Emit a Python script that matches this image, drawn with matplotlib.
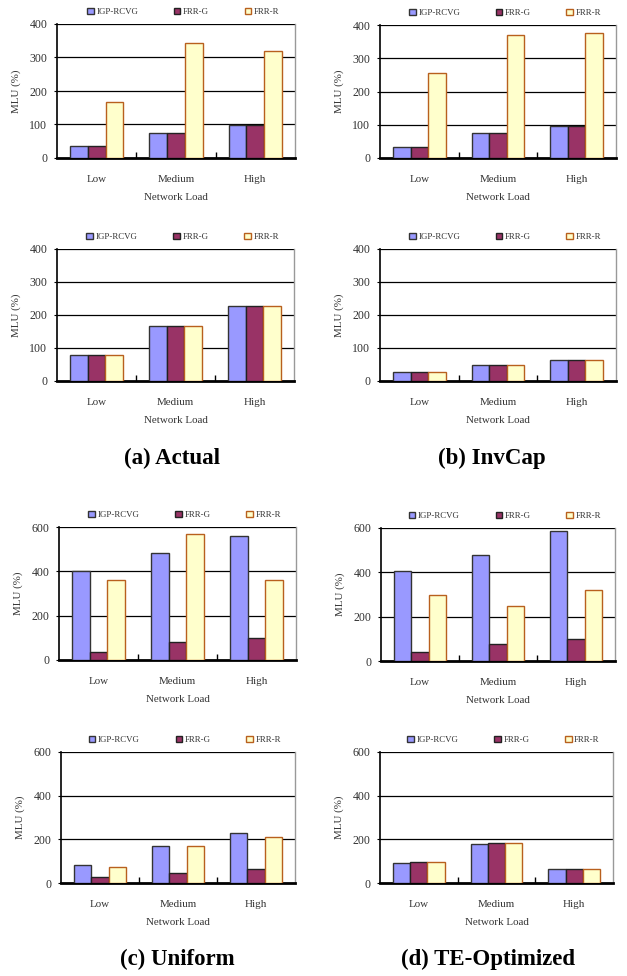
import matplotlib
matplotlib.use("Agg")
import matplotlib.pyplot as plt
from matplotlib.patches import Patch
import numpy as np

plt.rcParams['font.family'] = ['Liberation Serif', 'DejaVu Serif']

categories = ["Low", "Medium", "High"]
series_names = ["IGP-RCVG", "FRR-G", "FRR-R"]

# (a) Actual
a_top_igp = [36, 75, 98]
a_top_frrg = [36, 75, 98]
a_top_frrr = [167, 343, 319]
a_bot_igp = [78, 166, 228]
a_bot_frrg = [78, 166, 228]
a_bot_frrr = [78, 166, 228]
# (b) InvCap
b_top_igp = [33, 74, 97]
b_top_frrg = [33, 74, 97]
b_top_frrr = [255, 369, 375]
b_bot_igp = [27, 48, 64]
b_bot_frrg = [27, 48, 64]
b_bot_frrr = [27, 48, 64]
# (c) Uniform
c_top_igp = [403, 483, 558]
c_top_frrg = [34, 81, 100]
c_top_frrr = [363, 568, 361]
c_bot_igp = [81, 168, 231]
c_bot_frrg = [27, 45, 63]
c_bot_frrr = [75, 168, 212]
# (d) TE-Optimized
d_top_igp = [405, 478, 586]
d_top_frrg = [39, 76, 100]
d_top_frrr = [299, 248, 320]
d_bot_igp = [92, 177, 62]
d_bot_frrg = [98, 183, 62]
d_bot_frrr = [98, 183, 62]

titles = ["(a) Actual", "(b) InvCap", "(c) Uniform", "(d) TE-Optimized"]

face_colors = ["#9999FF", "#993366", "#FFFFCC"]
edge_colors = ["#333333", "#222222", "#B8601E"]
text_color = "#333333"

W, H = 627, 976
fig = plt.figure(figsize=(W / 100, H / 100), dpi=100)

# pixel rects: x0, x1, ytop, ybottom
panels = [
    ((57, 295, 24, 158), (a_top_igp, a_top_frrg, a_top_frrr), 400, 100),
    ((380, 616, 25, 158), (b_top_igp, b_top_frrg, b_top_frrr), 400, 100),
    ((57, 294, 249, 381), (a_bot_igp, a_bot_frrg, a_bot_frrr), 400, 100),
    ((380, 616, 249, 381), (b_bot_igp, b_bot_frrg, b_bot_frrr), 400, 100),
    ((59, 296, 527, 660), (c_top_igp, c_top_frrg, c_top_frrr), 600, 200),
    ((381, 615, 528, 661), (d_top_igp, d_top_frrg, d_top_frrr), 600, 200),
    ((61, 295, 752, 883), (c_bot_igp, c_bot_frrg, c_bot_frrr), 600, 200),
    ((380, 613, 752, 883), (d_bot_igp, d_bot_frrg, d_bot_frrr), 600, 200),
]

x = np.arange(len(categories))
bw = 0.223

for (x0, x1, yt, yb), series, ymax, step in panels:
    ax = fig.add_axes([x0 / W, 1 - yb / H, (x1 - x0) / W, (yb - yt) / H])
    hpx = yb - yt
    for i, vals in enumerate(series):
        ax.bar(x + (i - 1) * bw, vals, bw, color=face_colors[i],
               edgecolor=edge_colors[i], linewidth=1.0, zorder=3,
               label=series_names[i])
    ax.set_xlim(-0.5, 2.5)
    ax.set_ylim(0, ymax)
    ax.set_yticks(np.arange(0, ymax + 1, step))
    for yv in np.arange(step, ymax + 1, step):
        ax.axhline(yv, color="black", lw=0.9, zorder=1)
    ax.set_xticks(x)
    ax.set_xticklabels(categories)
    ax.set_xticks([0.5, 1.5], minor=True)
    ax.tick_params(axis='x', which='major', length=0, pad=12,
                   labelsize=7.9, labelcolor=text_color)
    ax.tick_params(axis='x', which='minor', direction='in', length=4,
                   width=1, color='black')
    ax.tick_params(axis='y', direction='out', length=2, width=0.8,
                   pad=5, labelsize=8.6, labelcolor=text_color)
    ax.spines['left'].set_color('black')
    ax.spines['left'].set_linewidth(1.2)
    ax.spines['bottom'].set_color('black')
    ax.spines['bottom'].set_linewidth(2.0)
    ax.spines['right'].set_color('#999999')
    ax.spines['right'].set_linewidth(1.0)
    ax.spines['top'].set_visible(False)
    ax.set_xlabel("Network Load", fontsize=7.9, color=text_color, labelpad=7)
    ax.set_ylabel("MLU (%)", fontsize=7.9, color=text_color, labelpad=6)
    handles = [Patch(facecolor=face_colors[i], edgecolor=edge_colors[i],
                     linewidth=1.0, label=series_names[i]) for i in range(3)]
    ax.legend(handles=handles, loc='center', ncol=3, frameon=False,
              bbox_to_anchor=(0.53, 1 + 12 / hpx), fontsize=6.4,
              handlelength=0.75, handleheight=0.75, handletextpad=0.3,
              columnspacing=4.0, borderpad=0, labelcolor=text_color)

title_pos = [(172, 458), (492, 458), (177, 959), (488, 959)]
for t, (tx, ty) in zip(titles, title_pos):
    fig.text(tx / W, 1 - ty / H, t, ha='center', va='center',
             fontsize=16.5, fontweight='bold', color='black')

fig.savefig("out.png", dpi=100)
